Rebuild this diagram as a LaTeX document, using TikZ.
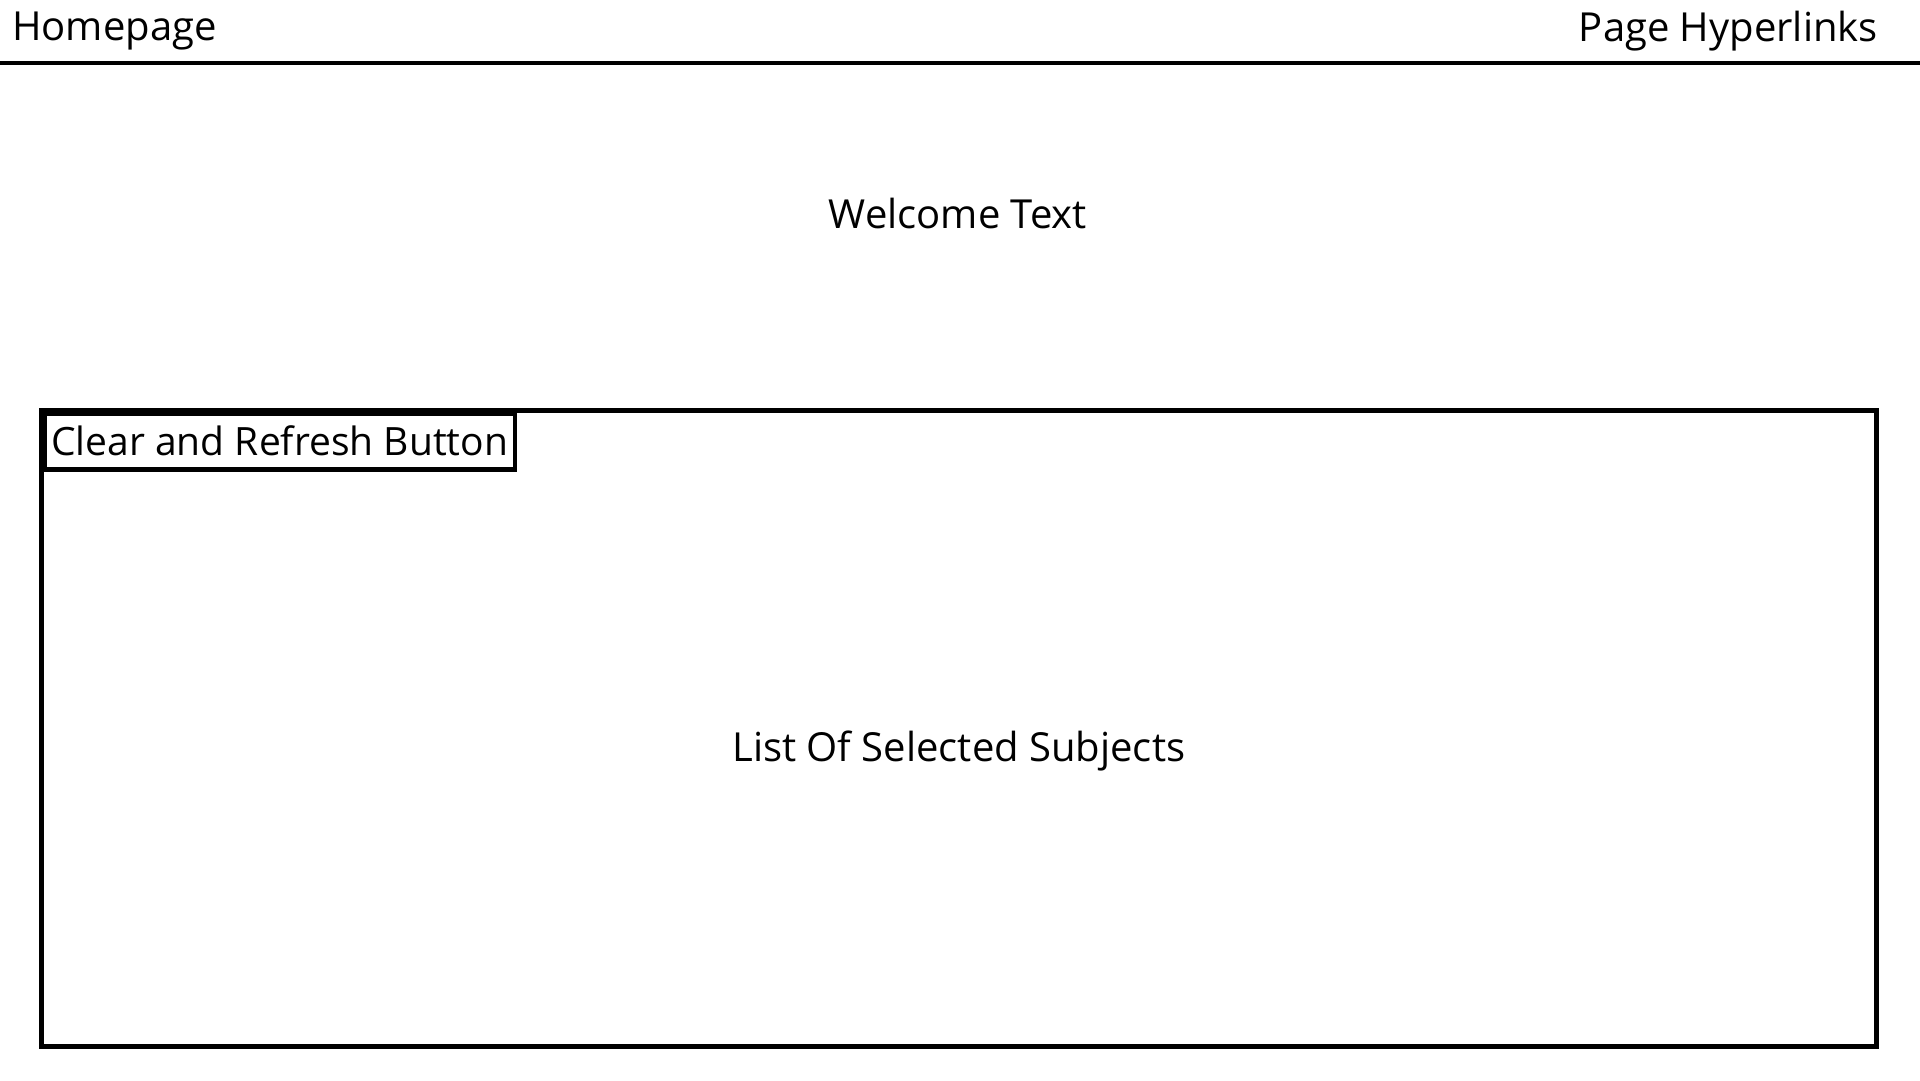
\documentclass[tikz,border=0pt]{standalone}
\usepackage{fontspec}
\setmainfont{Open Sans}
\usetikzlibrary{positioning}

\begin{document}
\begin{tikzpicture}[x=1pt,y=-1pt,
  txt/.style={font=\fontsize{40}{48}\selectfont,inner sep=0pt},
  panel/.style={draw,line width=4.5pt}]
\useasboundingbox (0,0) rectangle (1920,1080);
% header bar
\coordinate (barL) at (0,63);
\coordinate (barR) at (1920,63);
\draw[line width=4.5pt] (barL) -- (barR);
\node[txt,anchor=west] (home) at (12,31) {Homepage};
\node[txt,anchor=east] (links) at (1878,31) {Page Hyperlinks};
\node[txt] (welcome) at (958,213) {Welcome Text};
% subject list
\node[panel,minimum width=1835pt,minimum height=636pt,anchor=north west] (list) at (39,408) {};
\node[txt] (subjects) at ([yshift=-23pt]list.center) {List Of Selected Subjects};
\node[panel,txt,font=\fontsize{39}{47}\selectfont,inner xsep=7pt,minimum height=56pt,anchor=north west] (clear)
  at ([shift={(3,3)}]list.north west) {Clear and Refresh Button};
\end{tikzpicture}
\end{document}
